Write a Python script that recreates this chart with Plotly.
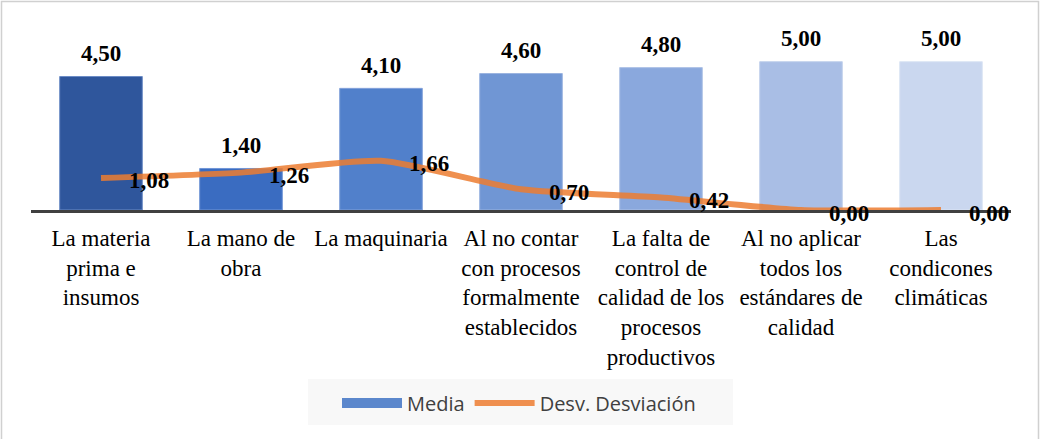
import plotly.graph_objects as go

categories = [
    "La materia<br>prima e<br>insumos",
    "La mano de<br>obra",
    "La maquinaria",
    "Al no contar<br>con procesos<br>formalmente<br>establecidos",
    "La falta de<br>control de<br>calidad de los<br>procesos<br>productivos",
    "Al no aplicar<br>todos los<br>estándares de<br>calidad",
    "Las<br>condicones<br>climáticas",
]
media = [4.50, 1.40, 4.10, 4.60, 4.80, 5.00, 5.00]
desv = [1.08, 1.26, 1.66, 0.70, 0.42, 0.00, 0.00]
bar_colors = ["#2F569C", "#3A6CC1", "#5180CB", "#7096D4", "#8AA8DD", "#A9BEE5", "#CAD7EF"]
line_edge = ["#6C8CC6", "#7196D6", "#83A2DA", "#9BB4E0", "#AFC3E6", "#C3D2EC", "#DCE5F4"]

W, H = 1040, 439
ml, mr, mt, mb = 31, 29, 32, 229
pw, ph = W - ml - mr, H - mt - mb

def fmt(v):
    return "<b>" + f"{v:.2f}".replace(".", ",") + "</b>"

SERIF = "Liberation Serif, Times New Roman, serif"

fig = go.Figure()
fig.add_trace(go.Bar(
    x=categories, y=media, name="Media", showlegend=False,
    marker=dict(color=bar_colors, line=dict(color=line_edge, width=1)),
    width=0.59, hoverinfo="skip",
))
# legend entry for Media
fig.add_trace(go.Scatter(
    x=[None], y=[None], name="Media", mode="lines",
    line=dict(color="#5B87CC", width=10),
))
fig.add_trace(go.Scatter(
    x=categories, y=desv, name="Desv. Desviación", mode="lines",
    line=dict(color="#ED7D31", width=6, shape="spline", smoothing=0.6),
    opacity=0.85, cliponaxis=False, hoverinfo="skip",
))

for c, v in zip(categories, media):
    fig.add_annotation(
        x=c, y=v, text=fmt(v), showarrow=False,
        xanchor="center", yanchor="middle", yshift=23,
        font=dict(family=SERIF, size=23, color="black"),
    )
for c, v in zip(categories, desv):
    fig.add_annotation(
        x=c, y=v, text=fmt(v),
        showarrow=False, xanchor="left", yanchor="middle", xshift=26, yshift=-3,
        font=dict(family=SERIF, size=23, color="black"),
    )

# chart border
fig.add_shape(
    type="rect", xref="paper", yref="paper",
    x0=(1.5 - ml) / pw, x1=(W - 1.5 - ml) / pw,
    y0=(mt + ph - (H + 2)) / ph, y1=(mt + ph - 1.5) / ph,
    line=dict(color="#D0D0D0", width=1.5), layer="below",
)
# legend background box
fig.add_shape(
    type="rect", xref="paper", yref="paper",
    x0=(308 - ml) / pw, x1=(733 - ml) / pw,
    y0=(mt + ph - 425) / ph, y1=(mt + ph - 379) / ph,
    line=dict(width=0), fillcolor="#F8F8F8", layer="below",
)

fig.update_layout(
    width=W, height=H,
    margin=dict(l=ml, r=mr, t=mt, b=mb, autoexpand=False),
    paper_bgcolor="white", plot_bgcolor="white",
    bargap=0.41,
    xaxis=dict(
        showline=True, linecolor="#404040", linewidth=3,
        ticks="", showgrid=False, fixedrange=True,
        tickfont=dict(family=SERIF, size=23, color="black"),
        tickangle=0, ticklabelstandoff=5,
    ),
    yaxis=dict(range=[0, 6], visible=False, showgrid=False, zeroline=False, fixedrange=True),
    legend=dict(
        orientation="h", x=(519 - ml) / pw, xanchor="center",
        y=(mt + ph - 403) / ph, yanchor="middle",
        bgcolor="rgba(0,0,0,0)",
        font=dict(family="Open Sans", size=20, color="#404040"),
        itemwidth=60,
    ),
)

fig.write_html("out.html", config={"displayModeBar": False},
               post_script="document.body.style.margin='0';")
